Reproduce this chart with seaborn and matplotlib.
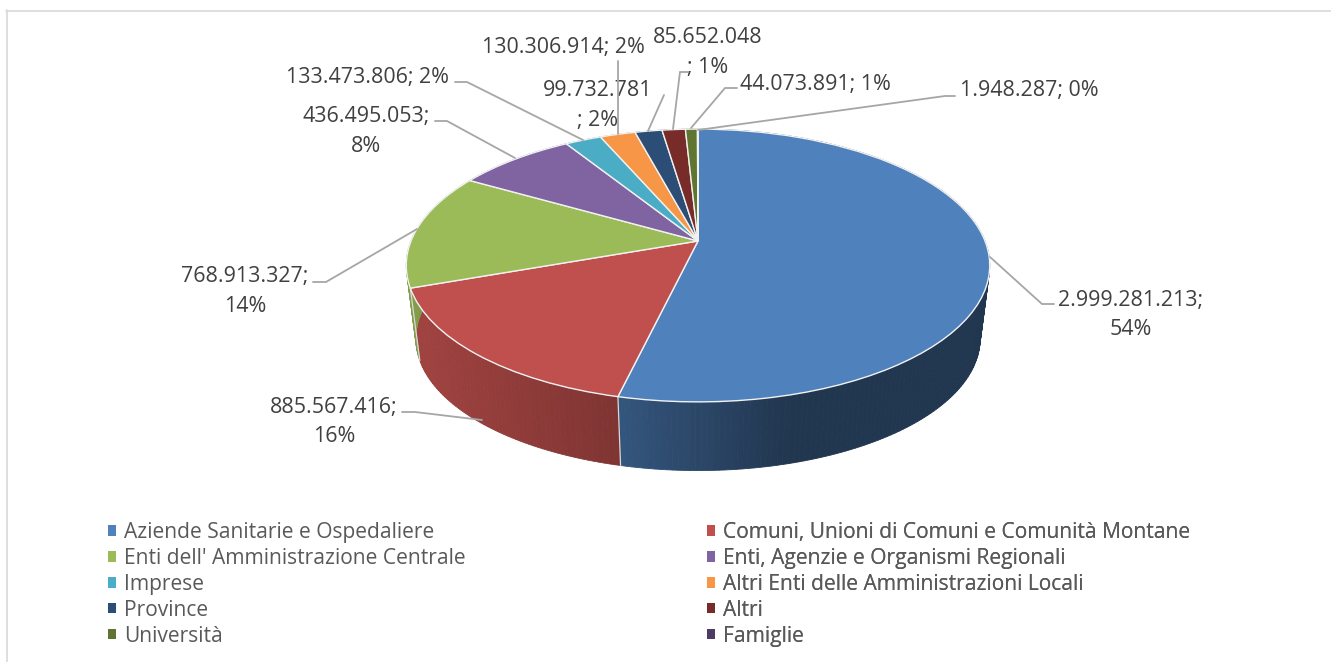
import numpy as np
import matplotlib
matplotlib.use("Agg")
import matplotlib.pyplot as plt
from matplotlib.transforms import Transform
import seaborn as sns

categories = ["Aziende Sanitarie e Ospedaliere", "Comuni, Unioni di Comuni e Comunità Montane",
              "Enti dell' Amministrazione Centrale", "Enti, Agenzie e Organismi Regionali",
              "Imprese", "Altri Enti delle Amministrazioni Locali",
              "Province", "Altri", "Università", "Famiglie"]
values = [2999281213, 885567416, 768913327, 436495053, 133473806,
          130306914, 99732781, 85652048, 44073891, 1948287]
colors = ["#4F81BD", "#C0504D", "#9BBB59", "#8064A2", "#4BACC6",
          "#F79646", "#2C4D75", "#772C2A", "#5F7530", "#4D3B62"]

# text lines of each data label: (text, centre x, baseline y)
label_lines = [
    [("2.999.281.213;", 1131, 306), ("54%", 1131, 335)],
    [("885.567.416;", 334, 413), ("16%", 334, 442)],
    [("768.913.327;", 245, 282), ("14%", 245, 312)],
    [("436.495.053;", 366, 122), ("8%", 366, 152)],
    [("133.473.806; 2%", 368, 83)],
    [("130.306.914; 2%", 563, 53)],
    [("99.732.781", 598, 96), ("; 2%", 598, 126)],
    [("85.652.048", 708, 43), ("; 1%", 708, 73)],
    [("44.073.891; 1%", 815, 90)],
    [("1.948.287; 0%", 1029, 96)],
]
# leader lines
leaders = [
    ([990, 1042, 1054], [257, 304, 304]),
    ([482, 415, 402], [420, 412, 412]),
    ([417, 326, 313], [229, 282, 282]),
    ([515, 447, 435], [158, 121, 121]),
    ([583, 467, 455], [140, 82, 82]),
    ([618, 618], [134, 61]),
    ([648, 664], [131, 95]),
    ([673, 680, 688], [129, 72, 72]),
    ([691, 725, 737], [128, 88, 88]),
    ([698, 945, 955], [130, 96, 96]),
]


class Tilt(Transform):
    # perspective view of the unit circle, gives pixels
    input_dims = 2
    output_dims = 2

    def __init__(self, cx, cy, a, b, k):
        super().__init__()
        self.cx, self.cy, self.a, self.b, self.k = cx, cy, a, b, k

    def transform_non_affine(self, xy):
        xy = np.asarray(xy, dtype=float)
        d = 1 + self.k * xy[:, 1]
        return np.column_stack((self.cx + self.a * xy[:, 0] / d, self.cy - self.b * xy[:, 1] / d))


sns.set_theme(style="white")
plt.rcParams["font.family"] = ["Open Sans", "DejaVu Sans"]
palette = sns.color_palette(colors)

fig = plt.figure(figsize=(13.31, 6.62), dpi=100)
ax = fig.add_axes([0, 0, 1, 1])

wedges, _ = ax.pie(values, colors=palette, startangle=90, counterclock=False,
                   wedgeprops={"edgecolor": "#f2f2f2", "linewidth": 1.0, "zorder": 3})
ax.set_aspect("auto")
ax.set_xlim(0, 1331)
ax.set_ylim(662, 0)
ax.axis("off")

top = Tilt(698, 241, 287, 132, 0.1795)
bottom = Tilt(698, 315, 287 * 0.967, 132 * 0.967, 0.1795)
for w in wedges:
    w.set_transform(top + ax.transData)

# side wall of the pie, shaded from left to right
for w, col in zip(wedges, palette):
    steps = np.radians(np.linspace(w.theta1, w.theta2, max(3, int(w.theta2 - w.theta1) + 2)))
    unit = np.column_stack((np.cos(steps), np.sin(steps)))
    up = top.transform_non_affine(unit)
    low = bottom.transform_non_affine(unit)
    for i in range(len(steps) - 1):
        xs = [up[i, 0], up[i + 1, 0], low[i + 1, 0], low[i, 0]]
        ys = [up[i, 1], up[i + 1, 1], low[i + 1, 1], low[i, 1]]
        f = np.interp(np.mean(xs), [410, 620, 790, 990], [0.84, 0.66, 0.42, 0.42])
        shade = tuple(c * f for c in col)
        ax.fill(xs, ys, color=shade, linewidth=0.6, zorder=1)
    if np.sin(steps[0]) < 0:
        ax.plot([up[0, 0], low[0, 0]], [up[0, 1], low[0, 1]], color="#d9d9d9", lw=0.9, zorder=2)

for xs, ys in leaders:
    ax.plot(xs, ys, color="#a6a6a6", lw=1.3, zorder=4, solid_joinstyle="miter")

for lines in label_lines:
    for txt, x, y in lines:
        ax.text(x, y, txt, ha="center", va="baseline", fontsize=15.4, color="#404040")

ax.plot([6, 1331], [10.5, 10.5], color="#d9d9d9", lw=1.2)
ax.plot([6.5, 6.5], [10, 662], color="#d9d9d9", lw=1.2)

# legend: two columns, one box each so the columns sit where they should
for start, x in zip([0, 1], [108, 707]):
    leg = ax.legend(wedges[start::2], categories[start::2], loc="upper left",
                    bbox_to_anchor=(x, 522), bbox_transform=ax.transData,
                    frameon=False, fontsize=15.1, labelcolor="#595959",
                    handlelength=0.38, handleheight=0.38, handletextpad=0.38,
                    labelspacing=0.235, borderpad=0, borderaxespad=0)
    for h in leg.legend_handles:
        h.set_edgecolor("none")
    ax.add_artist(leg)

fig.savefig("out.png", dpi=100)
